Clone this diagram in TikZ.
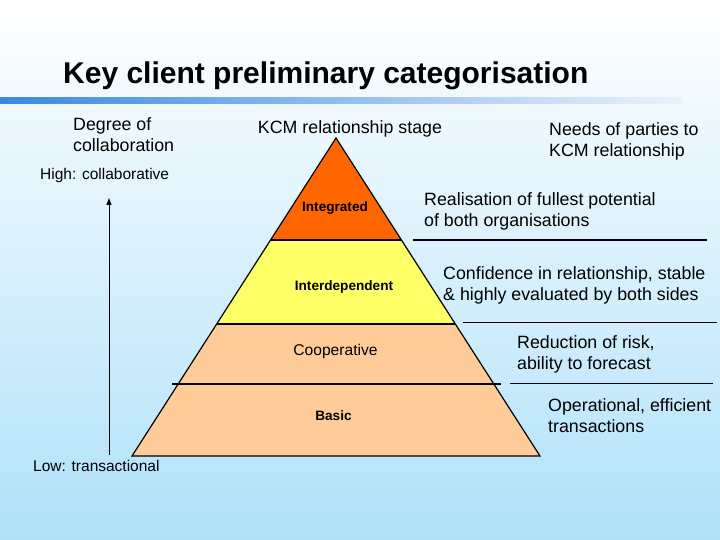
\documentclass[tikz,border=0pt]{standalone}
\usepackage{fontspec}
\setmainfont{Liberation Sans}
\usetikzlibrary{arrows.meta}
\definecolor{bgtop}{RGB}{255,255,255}
\definecolor{bgbot}{RGB}{176,225,250}
\definecolor{barL}{RGB}{60,135,228}
\definecolor{barR}{RGB}{235,243,252}
\definecolor{orangeL}{RGB}{255,102,0}
\definecolor{yellowL}{RGB}{255,255,102}
\definecolor{peachL}{RGB}{255,204,153}
\tikzset{
  body/.style={font=\fontsize{17.8}{21}\selectfont, inner sep=0pt, align=left},
  axislbl/.style={font=\fontsize{15.5}{18}\selectfont, inner sep=0pt},
  lvlbold/.style={font=\fontsize{13.6}{16}\selectfont\bfseries, inner sep=0pt},
  lvlreg/.style={font=\fontsize{15.6}{18}\selectfont, inner sep=0pt},
  edge/.style={line width=1.2pt, black},
  sepline/.style={line width=1.1pt, black}
}
\begin{document}
\begin{tikzpicture}[x=1pt,y=-1pt]
\useasboundingbox (0,0) rectangle (720,540);
\shade[top color=bgtop, bottom color=bgbot] (0,0) rectangle (720,540);
% title
\node[anchor=base west, inner sep=0pt, font=\fontsize{30}{34}\selectfont\bfseries] (title) at (63,84) {Key client preliminary categorisation};
\shade[left color=barL, right color=barR] (0,98) rectangle (683,104);
% column headings
\node[body, anchor=west] (degree) at (73,135) {Degree of\\collaboration};
\node[body] (kcm) at (350,129) {KCM relationship stage};
\node[body, anchor=west] (needs) at (549,141) {Needs of parties to\\KCM relationship};
% axis
\node[axislbl, anchor=west] (high) at (40,175) {High: collaborative};
\node[axislbl, anchor=west] (low) at (33,466) {Low: transactional};
\coordinate (axbot) at (109,455);
\coordinate (axtop) at (109,198);
\draw[line width=1pt, -{Triangle[length=7pt,width=5pt]}] (axbot) -- (axtop);
% pyramid coordinates
\coordinate (A) at (336,138);
\coordinate (L1) at (270.6,240); \coordinate (R1) at (401.4,240);
\coordinate (L2) at (216.7,324); \coordinate (R2) at (455.3,324);
\coordinate (BL) at (132,456); \coordinate (BR) at (540,456);
\coordinate (C1) at (172,384); \coordinate (C2) at (501,384);
% fills
\fill[orangeL] (A) -- (R1) -- (L1) -- cycle;
\fill[yellowL] (L1) -- (R1) -- (R2) -- (L2) -- cycle;
\fill[peachL] (L2) -- (R2) -- (BR) -- (BL) -- cycle;
% outlines
\draw[edge, line join=miter] (A) -- (BR) -- (BL) -- cycle;
\draw[edge] (L1) -- (R1);
\draw[edge] (L2) -- (R2);
\draw[sepline] (C1) -- (C2);
% level labels
\node[lvlbold] (integrated) at (335,208) {Integrated};
\node[lvlbold] (interdep) at (344,287) {Interdependent};
\node[lvlreg] (coop) at (335.5,351.5) {Cooperative};
\node[lvlbold] (basic) at (333.5,416) {Basic};
% needs
\node[body, anchor=west] (need1) at (424,211.5) {Realisation of fullest potential\\of both organisations};
\draw[sepline] (413,240) -- (707,240);
\node[body, anchor=west] (need2) at (443,285) {Confidence in relationship, stable\\\& highly evaluated by both sides};
\draw[sepline] (463,322.7) -- (717,322.7);
\node[body, anchor=west] (need3) at (517,354) {Reduction of risk,\\ability to forecast};
\draw[sepline] (510,383.3) -- (713,383.3);
\node[body, anchor=west] (need4) at (548,416) {Operational, efficient\\transactions};
\end{tikzpicture}
\end{document}
